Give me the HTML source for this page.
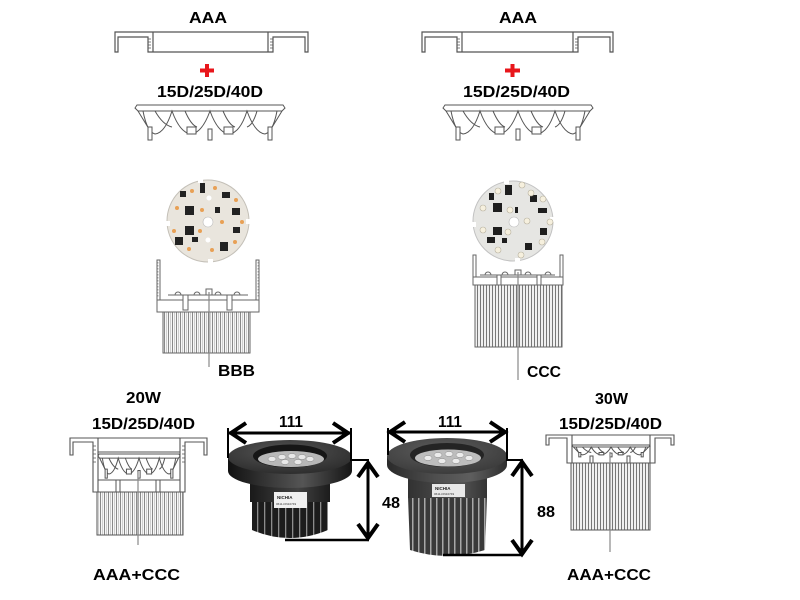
<!DOCTYPE html>
<html><head><meta charset="utf-8"><style>
html,body{margin:0;padding:0;background:#fff;}
svg{display:block;}
.t{font-family:"Liberation Sans",Arial,sans-serif;font-weight:bold;fill:#000;font-size:16px;}
</style></head><body>
<svg width="800" height="600" viewBox="0 0 800 600" xmlns="http://www.w3.org/2000/svg">
<defs>
 <pattern id="finA" width="4" height="20" patternUnits="userSpaceOnUse">
   <rect width="4" height="20" fill="#f7f7f7"/>
   <rect x="0" width="0.9" height="20" fill="#7d7d7d"/>
   <rect x="2" width="0.7" height="20" fill="#bdbdbd"/>
 </pattern>
 <pattern id="finB" width="3" height="20" patternUnits="userSpaceOnUse">
   <rect width="3" height="20" fill="#f0f0f0"/>
   <rect x="0" width="1" height="20" fill="#777"/>
 </pattern>
 <pattern id="finL1" width="7" height="20" patternUnits="userSpaceOnUse">
   <rect width="7" height="20" fill="#1c1c1c"/>
   <rect x="5" width="1.3" height="20" fill="#8c8c8c"/>
 </pattern>
 <pattern id="finL2" width="6" height="20" patternUnits="userSpaceOnUse">
   <rect width="6" height="20" fill="#3a3a3a"/>
   <rect x="4" width="1.5" height="20" fill="#a8a8a8"/>
 </pattern>
 <linearGradient id="sideG" x1="0" y1="0" x2="1" y2="0">
   <stop offset="0" stop-color="#111"/><stop offset="0.35" stop-color="#3a3a3a"/>
   <stop offset="0.6" stop-color="#555"/><stop offset="1" stop-color="#151515"/>
 </linearGradient>
 <linearGradient id="sideG2" x1="0" y1="0" x2="1" y2="0">
   <stop offset="0" stop-color="#2a2a2a"/><stop offset="0.4" stop-color="#4e4e4e"/>
   <stop offset="0.7" stop-color="#5e5e5e"/><stop offset="1" stop-color="#2e2e2e"/>
 </linearGradient>
 <radialGradient id="topG" cx="0.45" cy="0.35" r="0.7">
   <stop offset="0" stop-color="#555"/><stop offset="1" stop-color="#2b2b2b"/>
 </radialGradient>
 <radialGradient id="topG2" cx="0.45" cy="0.35" r="0.7">
   <stop offset="0" stop-color="#5c5c5c"/><stop offset="1" stop-color="#3a3a3a"/>
 </radialGradient>
 <g id="lens" fill="none" stroke="#555" stroke-width="1" vector-effect="non-scaling-stroke">
  <path d="M2,0 L148,0 L150,3 L147,6 L3,6 L0,3 Z" fill="#fff" vector-effect="non-scaling-stroke"/>
  <path d="M3,6 L14,24 M147,6 L136,24" vector-effect="non-scaling-stroke"/>
  <path d="M8,6 Q12,27 20,29 Q30,28 37,6 Q45,28 56,29 Q67,28 75,6 Q83,28 94,29 Q105,28 112,6 Q120,28 130,29 Q138,27 142,6" vector-effect="non-scaling-stroke"/>
  <path d="M20,6 Q28,20 37,22 M50,6 Q56,20 62,22 M88,6 Q94,20 100,22 M122,6 Q118,20 112,22" vector-effect="non-scaling-stroke"/>
  <rect x="13" y="22" width="4" height="13" fill="#fff" vector-effect="non-scaling-stroke"/>
  <rect x="73" y="24" width="4" height="11" fill="#fff" vector-effect="non-scaling-stroke"/>
  <rect x="133" y="22" width="4" height="13" fill="#fff" vector-effect="non-scaling-stroke"/>
  <rect x="52" y="22" width="9" height="7" fill="#fff" vector-effect="non-scaling-stroke"/>
  <rect x="89" y="22" width="9" height="7" fill="#fff" vector-effect="non-scaling-stroke"/>
 </g>
</defs>

<rect width="800" height="600" fill="#fff"/>

<!-- ============ TOP LEFT ============ -->
<text class="t" x="189" y="23" textLength="38" lengthAdjust="spacingAndGlyphs">AAA</text>
<g fill="#fff" stroke="#555" stroke-width="1.2">
 <path d="M115,52 L115,32 L308,32 L308,52 L305,52 L305,37 L273,37 L273,52 L148,52 L148,37 L118,37 L118,52 Z"/>
 <path d="M153,32 V52 M268,32 V52" fill="none"/>
 <path d="M148,39 h3 M148,42 h3 M148,45 h3 M148,48 h3 M270,39 h3 M270,42 h3 M270,45 h3 M270,48 h3" stroke-width="0.8" fill="none"/>
</g>
<rect x="200" y="68.5" width="14" height="4" fill="#e8161b"/>
<rect x="205" y="64" width="4" height="13" fill="#e8161b"/>
<text class="t" x="157" y="97" textLength="106" lengthAdjust="spacingAndGlyphs">15D/25D/40D</text>
<use href="#lens" transform="translate(135,105)"/>

<!-- ============ TOP RIGHT ============ -->
<text class="t" x="499" y="23" textLength="38" lengthAdjust="spacingAndGlyphs">AAA</text>
<g fill="#fff" stroke="#555" stroke-width="1.2">
 <path d="M422,52 L422,32 L613,32 L613,52 L610,52 L610,37 L578,37 L578,52 L457,52 L457,37 L425,37 L425,52 Z"/>
 <path d="M462,32 V52 M573,32 V52" fill="none"/>
 <path d="M457,39 h3 M457,42 h3 M457,45 h3 M457,48 h3 M575,39 h3 M575,42 h3 M575,45 h3 M575,48 h3" stroke-width="0.8" fill="none"/>
</g>
<rect x="505" y="68.5" width="15" height="4" fill="#e8161b"/>
<rect x="510.5" y="64" width="4" height="13" fill="#e8161b"/>
<text class="t" x="463" y="97" textLength="107" lengthAdjust="spacingAndGlyphs">15D/25D/40D</text>
<use href="#lens" transform="translate(443,105)"/>

<!-- ============ PCB BBB ============ -->
<circle cx="208" cy="221" r="41" fill="#e9e5dd" stroke="#c4c0b8" stroke-width="1"/>
<g fill="#fff">
 <rect x="198" y="179" width="5" height="4"/><rect x="246" y="219" width="4" height="5"/>
 <rect x="208" y="259" width="5" height="4"/><rect x="166" y="221" width="4" height="5"/>
</g>
<g fill="#222">
 <rect x="185" y="206" width="9" height="9"/><rect x="185" y="226" width="9" height="9"/>
 <rect x="180" y="191" width="6" height="6"/><rect x="200" y="183" width="5" height="10"/>
 <rect x="222" y="192" width="8" height="6"/><rect x="232" y="208" width="8" height="7"/>
 <rect x="233" y="227" width="7" height="6"/><rect x="220" y="242" width="8" height="9"/>
 <rect x="175" y="237" width="8" height="8"/><rect x="192" y="237" width="6" height="5"/>
 <rect x="215" y="207" width="5" height="6"/>
</g>
<g fill="#e8a055">
 <circle cx="192" cy="191" r="2"/><circle cx="215" cy="188" r="2"/><circle cx="236" cy="200" r="2"/>
 <circle cx="177" cy="208" r="2"/><circle cx="202" cy="210" r="2"/><circle cx="222" cy="222" r="2"/>
 <circle cx="242" cy="222" r="2"/><circle cx="174" cy="231" r="2"/><circle cx="200" cy="231" r="2"/>
 <circle cx="235" cy="242" r="2"/><circle cx="189" cy="249" r="2"/><circle cx="212" cy="250" r="2"/>
</g>
<circle cx="208" cy="222" r="5" fill="#fff" stroke="#bbb" stroke-width="0.6"/>
<circle cx="209" cy="198" r="2.5" fill="#fff"/><circle cx="208" cy="240" r="2.5" fill="#fff"/>

<!-- ============ HEATSINK BBB ============ -->
<g stroke="#666" stroke-width="1" fill="#fff">
 <rect x="157" y="260" width="3" height="40"/>
 <rect x="256" y="260" width="3" height="40"/>
 <rect x="157" y="300" width="102" height="12"/>
 <rect x="163" y="312" width="87" height="41" fill="url(#finA)"/>
 <path d="M168,295 H248" fill="none"/>
 <path d="M175,295 a3,3 0 0 1 6,0 M194,295 a3,3 0 0 1 6,0 M215,295 a3,3 0 0 1 6,0 M234,295 a3,3 0 0 1 6,0" fill="none"/>
 <rect x="183" y="295" width="5" height="15"/>
 <rect x="227" y="295" width="5" height="15"/>
 <rect x="206" y="289" width="6" height="6"/>
</g>
<path d="M158,262 v36 M258,262 v36" stroke="#999" stroke-width="0.8" stroke-dasharray="1.5,1.5"/>
<line x1="209" y1="292" x2="209" y2="367" stroke="#888" stroke-width="1.2"/>
<text class="t" x="218" y="376" textLength="37" lengthAdjust="spacingAndGlyphs">BBB</text>

<!-- ============ PCB CCC ============ -->
<circle cx="513" cy="221" r="40" fill="#e6e6e3" stroke="#c2c2c2" stroke-width="1"/>
<g fill="#fff">
 <rect x="504" y="180" width="5" height="4"/><rect x="550" y="217" width="4" height="5"/>
 <rect x="515" y="258" width="5" height="4"/><rect x="472" y="222" width="4" height="5"/>
</g>
<g fill="#1e1e1e">
 <rect x="493" y="203" width="9" height="9"/><rect x="493" y="227" width="9" height="8"/>
 <rect x="505" y="185" width="7" height="10"/><rect x="489" y="193" width="5" height="7"/>
 <rect x="530" y="195" width="7" height="7"/><rect x="538" y="208" width="9" height="5"/>
 <rect x="515" y="207" width="3" height="6"/><rect x="540" y="228" width="7" height="7"/>
 <rect x="487" y="237" width="8" height="6"/><rect x="525" y="243" width="7" height="7"/>
 <rect x="502" y="238" width="5" height="5"/>
</g>
<g fill="#f6f0de" stroke="#b8b2a0" stroke-width="0.6">
 <circle cx="498" cy="191" r="3"/><circle cx="522" cy="185" r="3"/><circle cx="531" cy="193" r="3"/>
 <circle cx="543" cy="199" r="3"/><circle cx="483" cy="208" r="3"/><circle cx="510" cy="210" r="3"/>
 <circle cx="527" cy="221" r="3"/><circle cx="550" cy="222" r="3"/><circle cx="483" cy="230" r="3"/>
 <circle cx="508" cy="232" r="3"/><circle cx="542" cy="242" r="3"/><circle cx="498" cy="250" r="3"/>
 <circle cx="521" cy="255" r="3"/>
</g>
<circle cx="514" cy="222" r="5" fill="#fff" stroke="#bbb" stroke-width="0.6"/>

<!-- ============ HEATSINK CCC ============ -->
<g stroke="#666" stroke-width="1" fill="#fff">
 <rect x="473" y="255" width="3" height="22"/>
 <rect x="560" y="255" width="3" height="22"/>
 <rect x="473" y="277" width="90" height="8"/>
 <rect x="475" y="285" width="87" height="62" fill="url(#finB)"/>
 <path d="M480,275 H555" fill="none"/>
 <path d="M485,275 a3,3 0 0 1 6,0 M502,275 a3,3 0 0 1 6,0 M525,275 a3,3 0 0 1 6,0 M545,275 a3,3 0 0 1 6,0" fill="none"/>
 <rect x="497" y="275" width="4" height="10"/>
 <rect x="537" y="275" width="4" height="10"/>
 <rect x="515" y="270" width="6" height="5"/>
</g>
<line x1="518" y1="272" x2="518" y2="380" stroke="#888" stroke-width="1.2"/>
<text class="t" x="527" y="377" textLength="34" lengthAdjust="spacingAndGlyphs">CCC</text>

<!-- ============ BOTTOM LEFT ASSEMBLY ============ -->
<text class="t" x="126" y="403" textLength="35" lengthAdjust="spacingAndGlyphs">20W</text>
<text class="t" x="92" y="429" textLength="103" lengthAdjust="spacingAndGlyphs">15D/25D/40D</text>
<g stroke="#555" stroke-width="1.1" fill="#fff">
 <path d="M70,455 L70,438 L207,438 L207,455 L204,455 L204,442 L185,442 L185,492 L93,492 L93,442 L73,442 L73,455 Z"/>
 <path d="M98,438 V492 M180,438 V492 M98,452 H180" fill="none"/>
 <path d="M93,446 h3 M93,450 h3 M93,454 h3 M93,458 h3 M93,462 h3 M182,446 h3 M182,450 h3 M182,454 h3 M182,458 h3 M182,462 h3" stroke-width="0.7" fill="none"/>
</g>
<use href="#lens" transform="translate(98,454) scale(0.547,0.69)"/>
<g stroke="#555" stroke-width="1" fill="#fff">
 <path d="M98,480 H180" fill="none"/>
 <rect x="116" y="480" width="4" height="12"/>
 <rect x="156" y="480" width="4" height="12"/>
 <rect x="97" y="492" width="86" height="43" fill="url(#finA)"/>
</g>
<line x1="138" y1="472" x2="138" y2="545" stroke="#888" stroke-width="1.2"/>
<text class="t" x="93" y="580" textLength="87" lengthAdjust="spacingAndGlyphs">AAA+CCC</text>

<!-- ============ BOTTOM RIGHT ASSEMBLY ============ -->
<text class="t" x="595" y="404" textLength="33" lengthAdjust="spacingAndGlyphs">30W</text>
<text class="t" x="559" y="429" textLength="103" lengthAdjust="spacingAndGlyphs">15D/25D/40D</text>
<g stroke="#555" stroke-width="1.1" fill="#fff">
 <path d="M546,445 L546,435 L674,435 L674,445 L671,445 L671,438 L655,438 L655,463 L567,463 L567,438 L549,438 L549,445 Z"/>
 <path d="M572,435 V463 M650,435 V463 M572,445 H650" fill="none"/>
</g>
<use href="#lens" transform="translate(572,445) scale(0.52,0.34)"/>
<g stroke="#555" stroke-width="1" fill="#fff">
 <rect x="590" y="456" width="3" height="7"/>
 <rect x="627" y="456" width="3" height="7"/>
 <rect x="571" y="463" width="79" height="67" fill="url(#finB)"/>
</g>
<line x1="610" y1="452" x2="610" y2="552" stroke="#888" stroke-width="1.2"/>
<text class="t" x="567" y="580" textLength="84" lengthAdjust="spacingAndGlyphs">AAA+CCC</text>

<!-- ============ LAMP 1 (photo) ============ -->
<path d="M252,500 L252,530 Q290,546 328,530 L328,500 Z" fill="url(#finL1)"/>
<rect x="250" y="478" width="80" height="24" fill="#262626"/>
<rect x="250" y="478" width="80" height="24" fill="url(#sideG)" opacity="0.6"/>
<rect x="274" y="492" width="33" height="16" fill="#f0f0f0"/>
<text x="277" y="499" font-family="Liberation Sans, sans-serif" font-size="4.5" font-weight="bold" fill="#222">NICHIA</text>
<text x="276" y="505" font-family="Liberation Sans, sans-serif" font-size="3" fill="#333">0611-DN10749</text>
<path d="M228,457 L228,471 A62,17 0 0 0 352,471 L352,457 Z" fill="url(#sideG)"/>
<ellipse cx="290" cy="457" rx="62" ry="17" fill="url(#topG)"/>
<ellipse cx="290" cy="456" rx="37" ry="11.5" fill="#161616"/>
<ellipse cx="291" cy="459" rx="33" ry="8" fill="#b8b8b8"/>
<g fill="#e8e8e8" stroke="#888" stroke-width="0.5">
 <ellipse cx="272" cy="459" rx="4" ry="2.5"/><ellipse cx="282" cy="457" rx="4" ry="2.5"/>
 <ellipse cx="292" cy="456" rx="4" ry="2.5"/><ellipse cx="302" cy="457" rx="4" ry="2.5"/>
 <ellipse cx="310" cy="459" rx="4" ry="2.5"/><ellipse cx="285" cy="462" rx="4" ry="2.5"/>
 <ellipse cx="298" cy="462" rx="4" ry="2.5"/>
</g>

<!-- ============ LAMP 2 (photo) ============ -->
<path d="M408,497 L410,550 Q447,562 485,550 L487,497 Z" fill="url(#finL2)"/>
<rect x="408" y="472" width="79" height="26" fill="#3c3c3c"/>
<rect x="408" y="472" width="79" height="26" fill="url(#sideG2)" opacity="0.6"/>
<rect x="432" y="484" width="33" height="13" fill="#e8e8e8"/>
<text x="435" y="490" font-family="Liberation Sans, sans-serif" font-size="4.5" font-weight="bold" fill="#222">NICHIA</text>
<text x="434" y="495" font-family="Liberation Sans, sans-serif" font-size="3" fill="#333">0611-DN10749</text>
<path d="M387,456 L387,465 A60,18 0 0 0 507,465 L507,456 Z" fill="url(#sideG2)"/>
<ellipse cx="447" cy="456" rx="60" ry="18" fill="url(#topG2)"/>
<ellipse cx="447" cy="455" rx="37" ry="12" fill="#242424"/>
<ellipse cx="448" cy="458" rx="33" ry="8.5" fill="#bdbdbd"/>
<g fill="#ececec" stroke="#888" stroke-width="0.5">
 <ellipse cx="428" cy="458" rx="4" ry="2.5"/><ellipse cx="438" cy="455" rx="4" ry="2.5"/>
 <ellipse cx="449" cy="454" rx="4" ry="2.5"/><ellipse cx="460" cy="455" rx="4" ry="2.5"/>
 <ellipse cx="469" cy="458" rx="4" ry="2.5"/><ellipse cx="442" cy="461" rx="4" ry="2.5"/>
 <ellipse cx="456" cy="461" rx="4" ry="2.5"/>
</g>

<!-- ============ DIMENSIONS ============ -->
<g stroke="#000" fill="none" stroke-linejoin="miter" stroke-linecap="butt">
 <path d="M229,433 H350" stroke-width="3"/>
 <path d="M246,423 L231,433 L246,443" stroke-width="4"/>
 <path d="M333,423 L348,433 L333,443" stroke-width="4"/>
 <path d="M228,428 V458" stroke-width="2"/>
 <path d="M351,428 V460 H369" stroke-width="2"/>
 <path d="M368,462 V539" stroke-width="3"/>
 <path d="M358,477 L368,463 L378,477" stroke-width="4"/>
 <path d="M358,524 L368,538 L378,524" stroke-width="4"/>
 <path d="M285,540 H369" stroke-width="2.5"/>

 <path d="M389,432 H506" stroke-width="3"/>
 <path d="M405,422 L390,432 L405,442" stroke-width="4"/>
 <path d="M490,422 L505,432 L490,442" stroke-width="4"/>
 <path d="M388,428 V455" stroke-width="2"/>
 <path d="M507,428 V460 H523" stroke-width="2"/>
 <path d="M522,462 V554" stroke-width="3"/>
 <path d="M512,476 L522,462 L532,476" stroke-width="4"/>
 <path d="M512,540 L522,554 L532,540" stroke-width="4"/>
 <path d="M443,555 H523" stroke-width="2.5"/>
</g>
<text class="t" x="279" y="427" textLength="24" lengthAdjust="spacingAndGlyphs">111</text>
<text class="t" x="438" y="427" textLength="24" lengthAdjust="spacingAndGlyphs">111</text>
<text class="t" x="382" y="508" textLength="18" lengthAdjust="spacingAndGlyphs">48</text>
<text class="t" x="537" y="517" textLength="18" lengthAdjust="spacingAndGlyphs">88</text>
</svg>
</body></html>
